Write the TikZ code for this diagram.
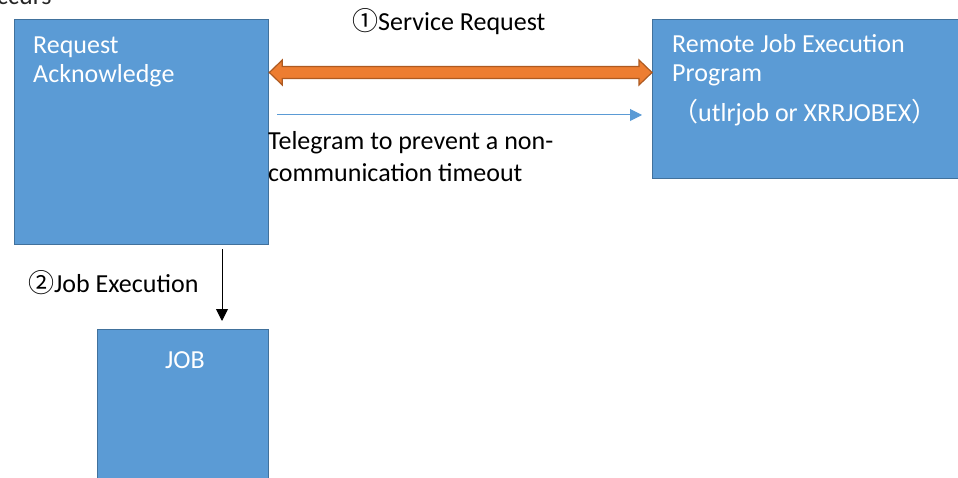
\documentclass[tikz,border=0pt]{standalone}
\usepackage{fontspec}
\setmainfont{Carlito}
\newfontfamily\cjk{Noto Sans CJK JP}
\newfontfamily\lightfont{Carlito}
\usetikzlibrary{arrows.meta,calc}
\definecolor{boxfill}{HTML}{5B9BD5}
\definecolor{boxline}{HTML}{41719C}
\definecolor{orfill}{HTML}{ED7D31}
\definecolor{orline}{HTML}{AE5A21}
\definecolor{thinblue}{HTML}{5B9BD5}
\tikzset{
  box/.style={draw=boxline, fill=boxfill, line width=1.3pt, anchor=north west, inner sep=0pt},
  boxtext/.style={text=white, anchor=base west, inner sep=0pt, font=\fontsize{26}{29}\selectfont},
  plain/.style={text=black, anchor=base west, inner sep=0pt, font=\fontsize{26}{32}\selectfont},
}
\begin{document}
\begin{tikzpicture}[x=1pt,y=-1pt]
\useasboundingbox (0,0) rectangle (958,478);
\clip (0,0) rectangle (958,478);
% boxes
\node[box, minimum width=254pt, minimum height=225pt] (req) at (14,19) {};
\node[box, minimum width=330pt, minimum height=159pt] (rem) at (652,19) {};
\node[box, minimum width=171pt, minimum height=170pt] (job) at (97,329) {};
% box texts
\node[boxtext] (reqA) at (33,54) {Request};
\node[boxtext] (reqB) at (33,83) {Acknowledge};
\node[boxtext] (remA) at (672,53) {Remote Job Execution};
\node[boxtext] (remB) at (672,82) {Program};
\node[boxtext] (remC) at (672,122) {{\cjk （}utlrjob or XRRJOBEX{\cjk ）}};
\node[boxtext, anchor=base] (jobt) at (185,368) {JOB};
% cut-off text at top
\node[plain, text=black!85] (occ) at (-3,5) {ccurs};
% orange double arrow
\coordinate (oL) at (req.east |- 0,72.5);
\coordinate (oR) at (rem.west |- 0,72.5);
\draw[fill=orfill, draw=orline, line width=1.2pt, line join=miter]
  (oL) -- ++(13,-12.5) -- ++(0,6.5) -- ($(oR)+(-13,-6)$) -- ++(0,-6.5)
  -- (oR) -- ++(-13,12.5) -- ++(0,-6.5) -- ($(oL)+(13,6)$) -- ++(0,6.5) -- cycle;
\node[plain, anchor=base west] (svc) at (352,31) {{\cjk ①}Service Request};
% thin blue arrow
\coordinate (tA) at ($(req.east |- 0,115)+(8,0)$);
\coordinate (tB) at ($(rem.west |- 0,115)+(-10,0)$);
\draw[thinblue, line width=1pt, -{Triangle[length=12pt,width=12pt]}] (tA) -- (tB);
\node[plain] (tel1) at (268,150) {Telegram to prevent a non-};
\node[plain] (tel2) at (268,182) {communication timeout};
% black arrow
\coordinate (bA) at ($(req.south -| 222,0)+(0,4)$);
\coordinate (bB) at ($(job.north -| 222,0)+(0,-8)$);
\draw[black, line width=1pt, -{Triangle[length=12pt,width=12pt]}] (bA) -- (bB);
\node[plain] (jex) at (28,292) {{\cjk ②}Job Execution};
\end{tikzpicture}
\end{document}
